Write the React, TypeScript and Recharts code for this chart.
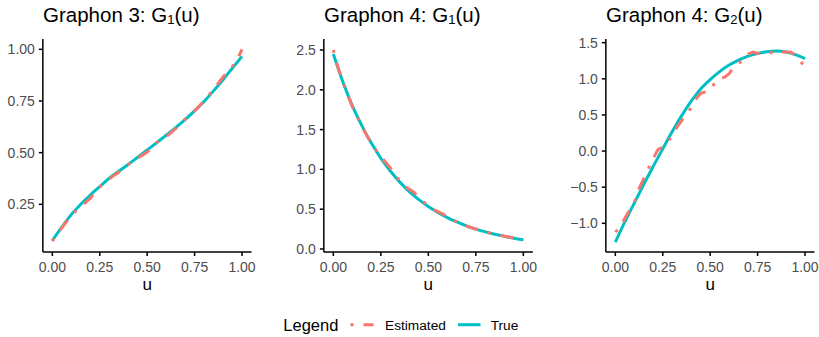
import React from 'react'
import { LineChart, Line, XAxis, YAxis } from 'recharts'

// grid of u values
const uTrue = [0, 0.05, 0.1, 0.15, 0.2, 0.25, 0.3, 0.35, 0.4, 0.45, 0.5, 0.55, 0.6, 0.65, 0.7, 0.75, 0.8, 0.85, 0.9, 0.95, 1]
const uEst = [
  0, 0.025, 0.05, 0.075, 0.1, 0.125, 0.15, 0.175, 0.2, 0.225, 0.25, 0.275, 0.3, 0.325, 0.35, 0.375, 0.4, 0.425, 0.45, 0.475,
  0.5, 0.525, 0.55, 0.575, 0.6, 0.625, 0.65, 0.675, 0.7, 0.725, 0.75, 0.775, 0.8, 0.825, 0.85, 0.875, 0.9, 0.925, 0.95, 0.975, 1,
]

// Graphon 3: G1(u)
const g3True = [0.075, 0.14, 0.2, 0.25, 0.295, 0.336, 0.376, 0.41, 0.443, 0.478, 0.513, 0.548, 0.584, 0.621, 0.66, 0.702, 0.748, 0.799, 0.853, 0.91, 0.966]
const g3Est = [
  0.072, 0.105, 0.136, 0.166, 0.195, 0.218, 0.24, 0.258, 0.278, 0.31, 0.334, 0.353, 0.372, 0.39, 0.405, 0.425, 0.443, 0.46, 0.474, 0.488,
  0.503, 0.525, 0.55, 0.566, 0.578, 0.596, 0.616, 0.64, 0.662, 0.682, 0.703, 0.726, 0.751, 0.778, 0.806, 0.836, 0.866, 0.892, 0.918, 0.952, 1.0,
]

// Graphon 4: G1(u)
const g41True = [2.45, 2.1, 1.8, 1.55, 1.33, 1.14, 0.98, 0.84, 0.72, 0.62, 0.535, 0.46, 0.395, 0.34, 0.29, 0.25, 0.215, 0.185, 0.16, 0.135, 0.117]
const g41Est = [
  2.5, 2.28, 2.1, 1.94, 1.79, 1.66, 1.54, 1.43, 1.33, 1.24, 1.16, 1.09, 1.02, 0.93, 0.86, 0.79, 0.75, 0.71, 0.65, 0.59,
  0.55, 0.5, 0.47, 0.44, 0.41, 0.37, 0.34, 0.315, 0.29, 0.27, 0.25, 0.235, 0.215, 0.2, 0.185, 0.175, 0.16, 0.15, 0.14, 0.13, 0.12,
]

// Graphon 4: G2(u)
const g42True = [-1.26, -0.98, -0.72, -0.46, -0.21, 0.03, 0.27, 0.49, 0.69, 0.86, 0.99, 1.1, 1.19, 1.26, 1.315, 1.35, 1.375, 1.385, 1.37, 1.335, 1.28]
const g42Est = [
  -1.12, -1.06, -0.93, -0.82, -0.71, -0.52, -0.38, -0.24, -0.1, 0.02, 0.06, 0.11, 0.23, 0.33, 0.42, 0.51, 0.6, 0.72, 0.8, 0.82,
  0.84, 0.95, 1.01, 1.02, 1.07, 1.17, 1.22, 1.25, 1.34, 1.37, 1.35, 1.36, 1.38, 1.36, 1.34, 1.37, 1.37, 1.37, 1.32, 1.25, 1.15,
]

const xTicks = [0, 0.25, 0.5, 0.75, 1]
const yTicks3 = [0.25, 0.5, 0.75, 1]
const yTicks41 = [0, 0.5, 1, 1.5, 2, 2.5]
const yTicks42 = [-1, -0.5, 0, 0.5, 1, 1.5]

const RED = '#F8766D'
const TEAL = '#00BFC4'
const FONT = '"Liberation Sans", Arial, Helvetica, sans-serif'
const DASH = '3 10 13 10'

const fmt = (d: number) => (v: number) => (v < 0 ? '\u2212' + Math.abs(v).toFixed(d) : v.toFixed(d))

interface PanelProps {
  left: number
  width: number
  yAxisWidth: number
  rightMargin: number
  yDomain: [number, number]
  yTicks: number[]
  yDigits: number
  trueVals: number[]
  estVals: number[]
}

function Panel({ left, width, yAxisWidth, rightMargin, yDomain, yTicks, yDigits, trueVals, estVals }: PanelProps) {
  const trueData = uTrue.map((u, i) => ({ u, v: trueVals[i] }))
  const estData = uEst.map((u, i) => ({ u, v: estVals[i] }))
  return (
    <div style={{ position: 'absolute', left, top: 0 }}>
      <LineChart width={width} height={300} margin={{ top: 39, right: rightMargin, bottom: 0, left: 0 }}>
        <XAxis
          type="number"
          dataKey="u"
          domain={[-0.05, 1.05]}
          ticks={xTicks}
          interval={0}
          allowDataOverflow
          tickFormatter={fmt(2)}
          height={48}
          stroke="#000"
          strokeWidth={1.5}
          tickSize={4}
          tickMargin={6}
          tick={{ fill: '#4D4D4D', fontSize: 14 }}
          label={{ value: 'u', position: 'insideBottom', offset: 10, fill: '#000', fontSize: 17 }}
        />
        <YAxis
          type="number"
          domain={yDomain}
          ticks={yTicks}
          interval={0}
          allowDataOverflow
          tickFormatter={fmt(yDigits)}
          width={yAxisWidth}
          stroke="#000"
          strokeWidth={1.5}
          tickSize={4}
          tickMargin={4}
          tick={{ fill: '#4D4D4D', fontSize: 14 }}
        />
        <Line data={trueData} dataKey="v" type="monotone" stroke={TEAL} strokeWidth={3} dot={false} isAnimationActive={false} />
        <Line data={estData} dataKey="v" type="linear" stroke={RED} strokeWidth={3} strokeDasharray={DASH} dot={false} isAnimationActive={false} />
      </LineChart>
    </div>
  )
}

function Title({ x, num, sub }: { x: number; num: string; sub: string }) {
  return (
    <text x={x} y={21.7} fontSize={20.5} fill="#000">
      {`Graphon ${num}: G`}
      <tspan fontSize={13} dy={2.5}>{sub}</tspan>
      <tspan fontSize={20.5} dy={-2.5}>(u)</tspan>
    </text>
  )
}

export default function App() {
  return (
    <div style={{ position: 'absolute', left: 0, top: 0, width: 819, height: 337, background: '#fff', fontFamily: FONT }}>
      <Panel left={0} width={260} yAxisWidth={42.85} rightMargin={8.5} yDomain={[0.0193, 1.05]} yTicks={yTicks3} yDigits={2} trueVals={g3True} estVals={g3Est} />
      <Panel left={270} width={270} yAxisWidth={53.83} rightMargin={7.17} yDomain={[-0.038, 2.638]} yTicks={yTicks41} yDigits={1} trueVals={g41True} estVals={g41Est} />
      <Panel left={550} width={269} yAxisWidth={55.85} rightMargin={4.5} yDomain={[-1.397, 1.551]} yTicks={yTicks42} yDigits={1} trueVals={g42True} estVals={g42Est} />
      <svg width={819} height={337} style={{ position: 'absolute', left: 0, top: 0, pointerEvents: 'none', fontFamily: FONT }}>
        <Title x={43} num="3" sub="1" />
        <Title x={324} num="4" sub="1" />
        <Title x={606} num="4" sub="2" />
        <text x={283.3} y={330.5} fontSize={16.5} fill="#000">Legend</text>
        <line x1={350.5} x2={373.5} y1={324.7} y2={324.7} stroke={RED} strokeWidth={3} strokeDasharray={DASH} />
        <text x={385} y={330} fontSize={13.7} fill="#000">Estimated</text>
        <line x1={458} x2={480.5} y1={324.7} y2={324.7} stroke={TEAL} strokeWidth={3} />
        <text x={490.7} y={330} fontSize={13.7} fill="#000">True</text>
      </svg>
    </div>
  )
}
